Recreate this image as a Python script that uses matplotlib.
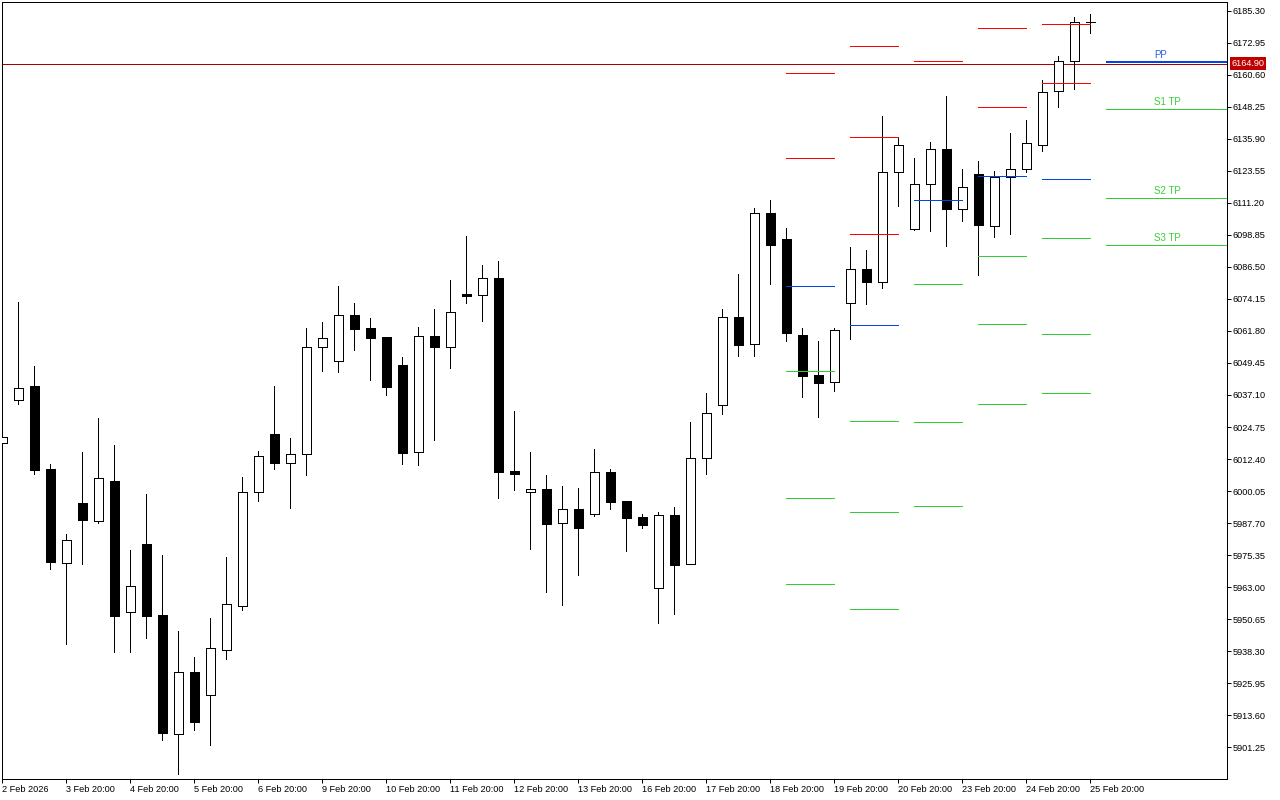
import numpy as np
import matplotlib
matplotlib.use('Agg')
import matplotlib.pyplot as plt
import matplotlib.transforms as mtransforms

plt.rcParams['font.family'] = ['Liberation Sans', 'DejaVu Sans']

# OHLC bars, oldest first
opens = [6018.59, 6035.17, 6040.56, 6008.56, 5972.31, 5995.45, 5988.51, 6003.93, 5953.41, 5979.64,
         5952.26, 5906.37, 5930.28, 5921.41, 5938.76, 5955.73, 5999.69, 6022.06, 6010.87, 6014.34,
         6055.60, 6050.20, 6067.94, 6062.93, 6059.46, 6048.66, 6015.11, 6059.85, 6055.60, 6076.04,
         6075.66, 6082.21, 6007.79, 5999.69, 6000.85, 5987.74, 5993.13, 5991.21, 6007.40, 5996.22,
         5990.05, 5962.67, 5990.82, 5971.93, 6012.80, 6033.24, 6067.17, 6056.76, 6107.28, 6097.25,
         6060.23, 6044.81, 6042.11, 6072.57, 6085.68, 6080.67, 6123.09, 6101.11, 6118.46, 6131.95,
         6108.82, 6122.31, 6102.26, 6121.16, 6124.24, 6133.50, 6154.32, 6165.89, 6181.12]
highs = [6020.90, 6072.96, 6048.28, 6010.49, 5983.49, 6015.11, 6028.22, 6017.81, 5977.32, 5998.92,
         5975.40, 5946.09, 5936.06, 5951.10, 5974.63, 6005.47, 6015.50, 6040.56, 6020.51, 6062.93,
         6065.24, 6079.13, 6072.57, 6066.79, 6059.46, 6051.75, 6063.32, 6070.26, 6081.44, 6098.41,
         6087.22, 6088.77, 6030.92, 6015.11, 6006.25, 6002.00, 6001.23, 6016.27, 6008.56, 5996.22,
         5991.21, 5991.98, 5993.91, 6026.68, 6037.87, 6070.26, 6083.75, 6109.20, 6112.29, 6101.49,
         6062.93, 6057.92, 6062.93, 6094.16, 6093.01, 6144.68, 6136.20, 6128.48, 6134.65, 6152.39,
         6124.24, 6127.33, 6123.47, 6138.12, 6143.14, 6158.56, 6167.82, 6182.85, 6184.01]
lows = [6018.59, 6033.62, 6006.63, 5970.00, 5941.08, 5971.93, 5987.74, 5937.99, 5937.99, 5943.39,
        5904.06, 5890.95, 5907.91, 5902.13, 5935.29, 5954.19, 5996.22, 6008.56, 5993.52, 6006.25,
        6046.35, 6045.96, 6054.45, 6042.88, 6037.09, 6010.49, 6010.10, 6019.74, 6047.51, 6072.57,
        6065.63, 5997.38, 6000.46, 5977.71, 5961.13, 5956.12, 5967.68, 5990.44, 5993.13, 5976.94,
        5985.81, 5949.18, 5952.65, 5971.93, 6006.63, 6029.77, 6052.13, 6052.13, 6079.90, 6057.92,
        6036.32, 6028.61, 6038.64, 6058.69, 6072.18, 6078.35, 6109.97, 6100.72, 6100.33, 6094.55,
        6104.19, 6083.37, 6098.02, 6099.18, 6123.09, 6131.18, 6148.15, 6155.09, 6176.68]
closes = [6020.90, 6039.79, 6008.17, 5972.70, 5981.18, 5988.89, 6005.09, 5951.87, 5963.44, 5951.87,
          5906.76, 5930.28, 5911.00, 5939.53, 5956.50, 5999.69, 6013.57, 6010.87, 6014.34, 6055.60,
          6059.07, 6067.94, 6062.54, 6059.07, 6040.18, 6014.73, 6059.85, 6055.60, 6069.10, 6075.27,
          6082.21, 6007.40, 6006.82, 6000.85, 5987.35, 5993.13, 5985.81, 6007.40, 5995.83, 5989.66,
          5986.96, 5990.82, 5971.54, 6012.80, 6030.15, 6067.17, 6056.37, 6107.28, 6094.94, 6061.00,
          6044.42, 6041.72, 6062.16, 6085.68, 6080.67, 6123.09, 6133.50, 6118.46, 6131.95, 6108.82,
          6117.30, 6102.65, 6121.16, 6124.24, 6134.27, 6153.93, 6165.89, 6180.93, 6180.93]

# x axis labels, one every 4 bars
date_labels = ['2 Feb 2026', '3 Feb 20:00', '4 Feb 20:00', '5 Feb 20:00', '6 Feb 20:00',
               '9 Feb 20:00', '10 Feb 20:00', '11 Feb 20:00', '12 Feb 20:00', '13 Feb 20:00',
               '16 Feb 20:00', '17 Feb 20:00', '18 Feb 20:00', '19 Feb 20:00', '20 Feb 20:00',
               '23 Feb 20:00', '24 Feb 20:00', '25 Feb 20:00']

# daily pivot levels of past days (bar index where each day starts)
pivot_start = [49, 53, 57, 61, 65]
pivot_r3 = [None, 6171.56, None, None, None]
pivot_r2 = [6161.26, 6136.47, None, 6178.50, 6180.04]
pivot_r1 = [6128.37, 6099.06, 6165.77, 6148.03, 6157.29]
pivot_pp = [6079.01, 6063.97, 6112.17, 6121.54, 6120.27]
pivot_s1 = [6046.23, 6026.95, 6079.78, 6090.58, 6097.52]
pivot_s2 = [5997.26, 5991.86, 6026.57, 6064.47, 6060.62]
pivot_s3 = [5964.10, 5954.46, 5994.18, 6033.51, 6037.75]

# current day levels
cur_start = 69
cur_names = ['PP', 'S1 TP', 'S2 TP', 'S3 TP']
cur_values = [6165.39, 6147.26, 6112.94, 6094.82]

bid = 6164.90

px = 0.72  # one pixel in points
RED = '#FF0000'
BLUE = '#0046E6'
GREEN = '#32CD32'

fig = plt.figure(figsize=(12.8, 8), dpi=100)
fig.patch.set_facecolor('white')
ax = fig.add_axes([2.3 / 1280, 21 / 800, 1225 / 1280, 776.7 / 800])

n = len(opens)
x = np.arange(n)
o = np.array(opens)
c = np.array(closes)
up = c >= o

ax.axhline(bid, color='#A80000', linewidth=px, zorder=1, antialiased=False)

ax.vlines(x, lows, highs, colors='black', linewidth=px, zorder=2, antialiased=False)
ax.bar(x, np.abs(c - o), bottom=np.minimum(o, c), width=0.58,
       color=np.where(up, 'white', 'black'), edgecolor='black', linewidth=px,
       zorder=3, antialiased=False)

levels = [pivot_r3, pivot_r2, pivot_r1, pivot_pp, pivot_s1, pivot_s2, pivot_s3]
level_colors = [RED, RED, RED, BLUE, GREEN, GREEN, GREEN]
for vals, col in zip(levels, level_colors):
    for start, v in zip(pivot_start, vals):
        if v is None:
            continue
        ax.hlines(v, start, start + 3, colors=col, linewidth=px, zorder=4, antialiased=False)

xmax = 1225 / 16
for name, v in zip(cur_names, cur_values):
    is_pp = name == 'PP'
    ax.hlines(v, cur_start, xmax, colors=BLUE if is_pp else GREEN,
              linewidth=2 * px if is_pp else px, zorder=4, antialiased=False)
    ax.annotate(name, xy=(72, v), xytext=(0, 1.5), textcoords='offset points',
                ha='left', va='bottom', fontsize=7,
                color='#2F5FE0' if is_pp else '#38D038')

ax.set_xlim(0, xmax)
ax.set_ylim(5889.02, 6188.53)

# axes styling like a trading terminal
for sp in ax.spines.values():
    sp.set_linewidth(px)
    sp.set_color('black')

ax.set_xticks(np.arange(0, n, 4), date_labels)
for lbl in ax.get_xticklabels():
    lbl.set_horizontalalignment('left')
ax.tick_params(axis='x', direction='out', length=3, width=px, pad=1, labelsize=6.6)

yt = np.arange(5901.25, 6186, 12.35)
ax.yaxis.tick_right()
ax.set_yticks(yt, ['%.2f' % v for v in yt])
ax.tick_params(axis='y', direction='out', length=3, width=px, pad=1, labelsize=6.6)

trans = mtransforms.blended_transform_factory(ax.transAxes, ax.transData)
ax.text(1.0035, bid, '%.2f' % bid, transform=trans, ha='left', va='center',
        fontsize=6.6, color='white', zorder=10,
        bbox=dict(boxstyle='square,pad=0.2', fc='#C00000', ec='none'))

fig.savefig('out.png', dpi=100, facecolor='white')
